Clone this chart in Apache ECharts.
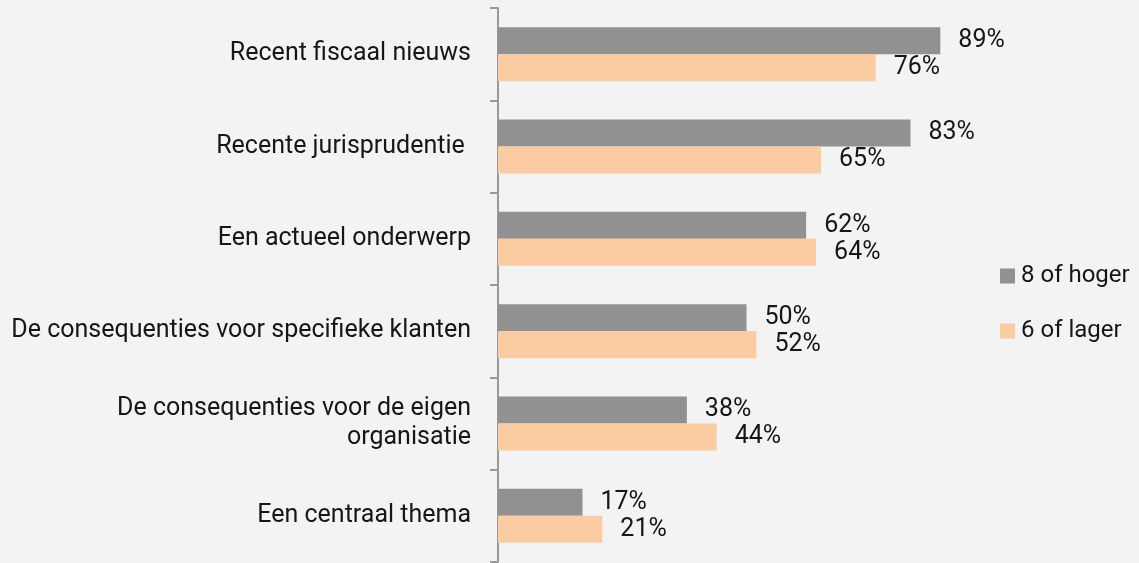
<!DOCTYPE html>
<html>
<head>
<meta charset="utf-8">
<script src="https://cdn.jsdelivr.net/npm/echarts@6/dist/echarts.min.js"></script>
<style>
  html, body { margin: 0; padding: 0; background: #f3f3f3; }
  #main { width: 1139px; height: 563px; }
</style>
</head>
<body>
<div id="main"></div>
<script>
var categories = [
  'Recent fiscaal nieuws',
  'Recente jurisprudentie ',
  'Een actueel onderwerp',
  'De consequenties voor specifieke klanten',
  'De consequenties voor de eigen\norganisatie',
  'Een centraal thema'
];
var hoger = [89, 83, 62, 50, 38, 17];
var lager = [76, 65, 64, 52, 44, 21];
var seriesNames = ['8 of hoger', '6 of lager'];

var myChart = echarts.init(document.getElementById('main'));

var labelStyle = {
  show: true,
  position: 'right',
  distance: 18,
  formatter: '{c}%',
  color: '#161616',
  fontSize: 25,
  fontFamily: 'Roboto'
};

var option = {
  backgroundColor: '#f3f3f3',
  textStyle: { fontFamily: 'Roboto' },
  legend: {
    orient: 'vertical',
    left: 995,
    top: 259,
    itemWidth: 15,
    itemHeight: 15,
    itemGap: 31,
    icon: 'rect',
    textStyle: { fontSize: 24, color: '#161616', padding: [0, 0, 0, 1] },
    data: seriesNames
  },
  grid: { left: 498, right: 144, top: 8, bottom: 1 },
  xAxis: {
    type: 'value',
    min: 0,
    max: 100,
    show: false
  },
  yAxis: {
    type: 'category',
    inverse: true,
    data: categories,
    axisLine: { show: true, lineStyle: { color: '#999', width: 2 } },
    axisTick: { show: true, inside: false, length: 8, lineStyle: { color: '#999', width: 2 } },
    axisLabel: {
      margin: 27,
      fontSize: 25,
      color: '#161616',
      lineHeight: 29,
      align: 'right'
    }
  },
  series: [
    {
      name: seriesNames[0],
      type: 'bar',
      data: hoger,
      barWidth: 27,
      barGap: '0%',
      itemStyle: { color: '#919191' },
      label: labelStyle
    },
    {
      name: seriesNames[1],
      type: 'bar',
      data: lager,
      barWidth: 27,
      itemStyle: { color: '#fbcca2' },
      label: labelStyle
    }
  ]
};

myChart.setOption(option);
</script>
</body>
</html>
